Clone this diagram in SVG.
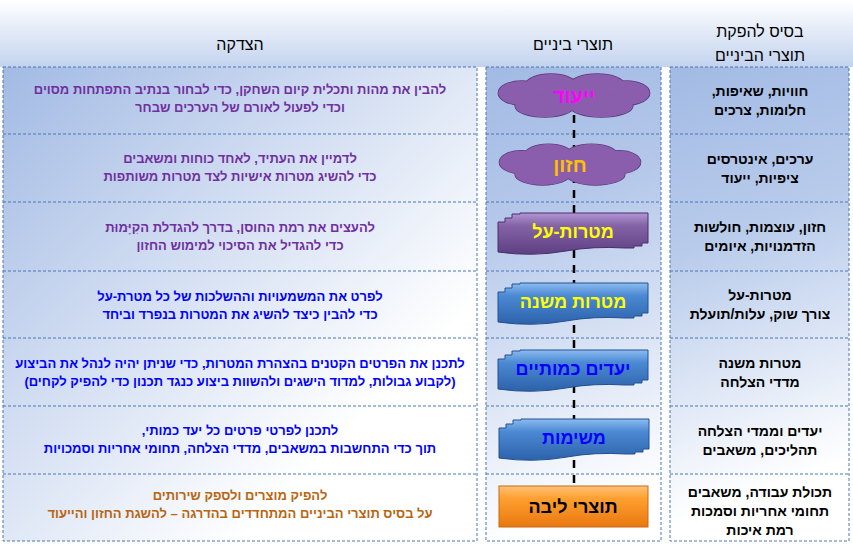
<svg xmlns="http://www.w3.org/2000/svg" xmlns:xlink="http://www.w3.org/1999/xlink" width="853" height="546" viewBox="0 0 853 546">
<style>
text{font-family:"Liberation Sans",Arial,sans-serif;direction:rtl;text-anchor:middle;}
.h{font-size:16px;fill:#000;}
.r{font-size:14px;font-weight:bold;fill:#000;}
.l{font-size:13px;font-weight:bold;}
.pu{fill:#7030a0;}.bl{fill:#0000ff;}.br{fill:#b8650f;}
.cell{stroke:#4a76b8;stroke-width:1;stroke-dasharray:3,2;fill:none;}
.b{font-size:18px;font-weight:bold;}
.cs{stroke:#5a3a7a;stroke-width:1.5;fill:#8a5eac;}
.cf{fill:#8a5eac;}
</style>
<defs>
<linearGradient id="hdr" x1="0" y1="0" x2="0" y2="67" gradientUnits="userSpaceOnUse"><stop offset="0" stop-color="#ffffff"/><stop offset="1" stop-color="#c3d3ee"/></linearGradient>
<linearGradient id="gl" x1="3" y1="67" x2="477" y2="541" gradientUnits="userSpaceOnUse"><stop offset="0" stop-color="#a2bae4"/><stop offset="0.75" stop-color="#ffffff"/></linearGradient>
<linearGradient id="gm" x1="486" y1="67" x2="661" y2="541" gradientUnits="userSpaceOnUse"><stop offset="0" stop-color="#a2bae4"/><stop offset="0.3" stop-color="#b5c8ea"/><stop offset="0.9" stop-color="#ffffff"/></linearGradient>
<linearGradient id="gr" x1="670" y1="67" x2="849" y2="541" gradientUnits="userSpaceOnUse"><stop offset="0" stop-color="#a2bae4"/><stop offset="0.35" stop-color="#b8cbeb"/><stop offset="0.85" stop-color="#ffffff"/></linearGradient>
<linearGradient id="gp" x1="0" y1="0" x2="0" y2="1"><stop offset="0" stop-color="#b396d4"/><stop offset="0.3" stop-color="#8464a6"/><stop offset="1" stop-color="#5e3f82"/></linearGradient>
<linearGradient id="gb" x1="0" y1="0" x2="0" y2="1"><stop offset="0" stop-color="#8cbcf0"/><stop offset="0.3" stop-color="#4c8ad4"/><stop offset="1" stop-color="#2c62aa"/></linearGradient>
<linearGradient id="go" x1="0" y1="0" x2="0" y2="1"><stop offset="0" stop-color="#ffc27a"/><stop offset="0.3" stop-color="#ffa030"/><stop offset="1" stop-color="#e87810"/></linearGradient>
<path id="banner" d="M0,9 L7,9 L7,5 L14,5 L14,1 L22,1 L22,0 L150,0 L150,30 L144,30 L144,33 L136,33 L136,35 L127,35 Q95,33 68,38 Q35,44 0,39 Z"/>
<g id="cloud">
<g class="cs">
<ellipse cx="0" cy="0" rx="62" ry="14"/><ellipse cx="-50" cy="-3" rx="22" ry="12"/><ellipse cx="50" cy="-3" rx="22" ry="12"/><ellipse cx="-22" cy="-11" rx="24" ry="11"/><ellipse cx="22" cy="-11" rx="26" ry="11"/><ellipse cx="-28" cy="10" rx="28" ry="11"/><ellipse cx="26" cy="10" rx="30" ry="11"/>
</g>
<g class="cf">
<ellipse cx="0" cy="0" rx="62" ry="14"/><ellipse cx="-50" cy="-3" rx="22" ry="12"/><ellipse cx="50" cy="-3" rx="22" ry="12"/><ellipse cx="-22" cy="-11" rx="24" ry="11"/><ellipse cx="22" cy="-11" rx="26" ry="11"/><ellipse cx="-28" cy="10" rx="28" ry="11"/><ellipse cx="26" cy="10" rx="30" ry="11"/>
</g>
</g>
</defs>
<rect width="853" height="546" fill="#ffffff"/>
<rect x="0" y="0" width="853" height="67" fill="url(#hdr)"/>
<g id="header">
<text class="h" x="240" y="50">הצדקה</text>
<text class="h" x="573" y="50">תוצרי ביניים</text>
<text class="h" x="760" y="37">בסיס להפקת</text>
<text class="h" x="760" y="61">תוצרי הביניים</text>
</g>
<rect x="3" y="67" width="474" height="474" fill="url(#gl)"/>
<rect x="486" y="67" width="175" height="474" fill="url(#gm)"/>
<rect x="670" y="67" width="179" height="474" fill="url(#gr)"/>
<g id="grid">
<rect class="cell" x="3" y="67" width="474" height="474"/>
<rect class="cell" x="486" y="67" width="175" height="474"/>
<rect class="cell" x="670" y="67" width="179" height="474"/>
<path class="cell" d="M3,134H477M3,202H477M3,271H477M3,338H477M3,406H477M3,474H477M486,134H661M486,202H661M486,271H661M486,338H661M486,406H661M486,474H661M670,134H849M670,202H849M670,271H849M670,338H849M670,406H849M670,474H849"/>
</g>
<g id="connectors">
<line x1="574" y1="115" x2="574" y2="487" stroke="#000" stroke-width="2.5" stroke-dasharray="8,7"/>
</g>
<g id="right">
<text class="r" x="760" y="96">חוויות, שאיפות,</text><text class="r" x="760" y="115">חלומות, צרכים</text>
<text class="r" x="760" y="164">ערכים, אינטרסים</text><text class="r" x="760" y="183">ציפיות, ייעוד</text>
<text class="r" x="760" y="232">חזון, עוצמות, חולשות</text><text class="r" x="760" y="251">הזדמנויות, איומים</text>
<text class="r" x="760" y="300">מטרות-על</text><text class="r" x="760" y="319">צורך שוק, עלות/תועלת</text>
<text class="r" x="760" y="368">מטרות משנה</text><text class="r" x="760" y="387">מדדי הצלחה</text>
<text class="r" x="760" y="436">יעדים וממדי הצלחה</text><text class="r" x="760" y="455">תהליכים, משאבים</text>
<text class="r" x="760" y="497">תכולת עבודה, משאבים</text><text class="r" x="760" y="516">תחומי אחריות וסמכות</text><text class="r" x="760" y="535">רמת איכות</text>
</g>
<g id="left">
<text class="l pu" x="240" y="94">להבין את מהות ותכלית קיום השחקן, כדי לבחור בנתיב התפתחות מסוים</text>
<text class="l pu" x="240" y="112">וכדי לפעול לאורם של הערכים שבחר</text>
<text class="l pu" x="240" y="163">לדמיין את העתיד, לאחד כוחות ומשאבים</text>
<text class="l pu" x="240" y="181">כדי להשיג מטרות אישיות לצד מטרות משותפות</text>
<text class="l pu" x="240" y="232">להעצים את רמת החוסן, בדרך להגדלת הקִיָּמוּת</text>
<text class="l pu" x="240" y="250">כדי להגדיל את הסיכוי למימוש החזון</text>
<text class="l bl" x="240" y="301">לפרט את המשמעויות וההשלכות של כל מטרת-על</text>
<text class="l bl" x="240" y="319">כדי להבין כיצד להשיג את המטרות בנפרד וביחד</text>
<text class="l bl" x="240" y="368">לתכנן את הפרטים הקטנים בהצהרת המטרות, כדי שניתן יהיה לנהל את הביצוע</text>
<text class="l bl" x="240" y="386">(לקבוע גבולות, למדוד הישגים ולהשוות ביצוע כנגד תכנון כדי להפיק לקחים)</text>
<text class="l bl" x="240" y="435">לתכנן לפרטי פרטים כל יעד כמותי,</text>
<text class="l bl" x="240" y="453">תוך כדי התחשבות במשאבים, מדדי הצלחה, תחומי אחריות וסמכויות</text>
<text class="l br" x="240" y="500">להפיק מוצרים ולספק שירותים</text>
<text class="l br" x="240" y="518">על בסיס תוצרי הביניים המתחדדים בהדרגה – להשגת החזון והייעוד</text>
</g>
<g id="n1"><use xlink:href="#cloud" transform="translate(574,96) scale(1.05,1)"/><text class="b" x="574" y="103" fill="#ff00ff" style="font-size:20px">ייעוד</text></g>
<g id="n2"><use xlink:href="#cloud" transform="translate(570,165) scale(0.98,0.95)"/><text class="b" x="570" y="172" fill="#ffc000" style="font-size:20px">חזון</text></g>
<g id="n3"><use xlink:href="#banner" transform="translate(498,213)" fill="url(#gp)" stroke="#4a2e6a" stroke-width="1"/><text class="b" x="573" y="238" fill="#ffff00">מטרות-על</text></g>
<g id="n4"><use xlink:href="#banner" transform="translate(498,283)" fill="url(#gb)" stroke="#245090" stroke-width="1"/><text class="b" x="573" y="308" fill="#ffff00">מטרות משנה</text></g>
<g id="n5"><use xlink:href="#banner" transform="translate(498,350)" fill="url(#gb)" stroke="#245090" stroke-width="1"/><text class="b" x="573" y="375" fill="#0000ff">יעדים כמותיים</text></g>
<g id="n6"><use xlink:href="#banner" transform="translate(499,419)" fill="url(#gb)" stroke="#245090" stroke-width="1"/><text class="b" x="574" y="444" fill="#0000ff">משימות</text></g>
<g id="n7"><rect x="499" y="486" width="149" height="41" fill="url(#go)" stroke="#c86a10"/><text class="b" x="573" y="513" fill="#000">תוצרי ליבה</text></g>
</svg>
